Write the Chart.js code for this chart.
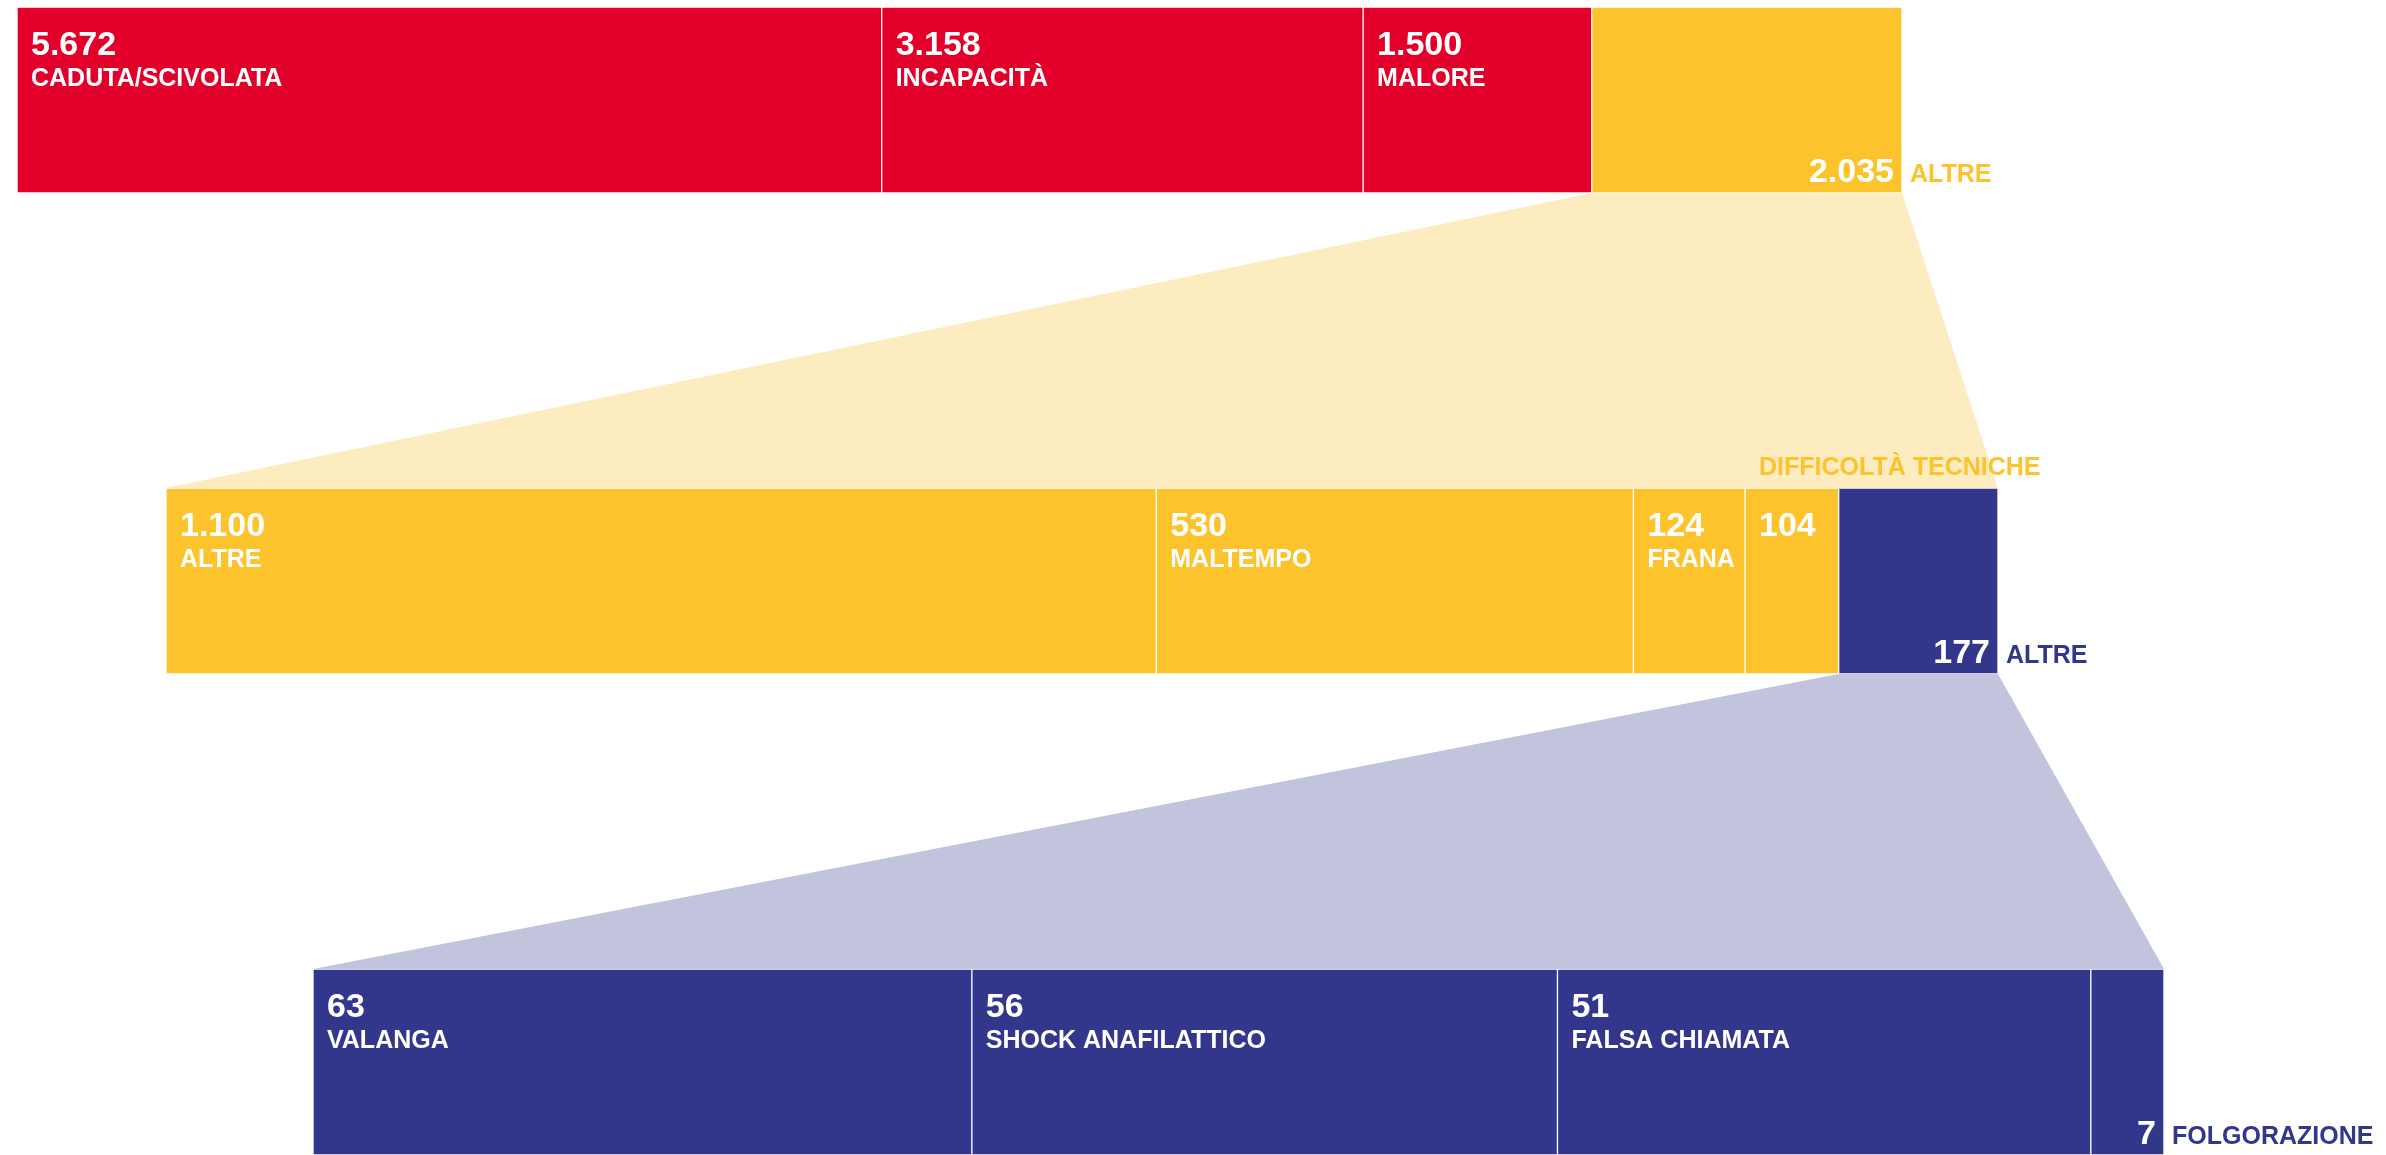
<!DOCTYPE html>
<html lang="it">
<head>
<meta charset="utf-8">
<title>Cause degli interventi</title>
<script src="https://cdn.jsdelivr.net/npm/chart.js@4.4.1/dist/chart.umd.min.js"></script>
<style>
  html, body { margin: 0; padding: 0; background: #fff; }
  #wrap { width: 2386px; height: 1155px; }
</style>
</head>
<body>
<div id="wrap"><canvas id="chart" width="2386" height="1155"></canvas></div>
<script>
'use strict';

// dati
const rowIds = ['r1', 'r2', 'r3'];

const row1Names = ['CADUTA/SCIVOLATA', 'INCAPACITÀ', 'MALORE', 'ALTRE'];
const row1Values = [5672, 3158, 1500, 2035];

const row2Names = ['ALTRE', 'MALTEMPO', 'FRANA', 'DIFFICOLTÀ TECNICHE', 'ALTRE'];
const row2Values = [1100, 530, 124, 104, 177];

const row3Names = ['VALANGA', 'SHOCK ANAFILATTICO', 'FALSA CHIAMATA', 'FOLGORAZIONE'];
const row3Values = [63, 56, 51, 7];

// stile
const RED = '#e2002b';
const YELLOW = '#fdc32d';
const NAVY = '#33378c';
const LIGHT_YELLOW = '#fdecc0';
const LAVENDER = '#c2c4de';

const row1Colors = [RED, RED, RED, YELLOW];
const row2Colors = [YELLOW, YELLOW, YELLOW, YELLOW, NAVY];
const row3Colors = [NAVY, NAVY, NAVY, NAVY];

// 'in' = etichetta in alto a sinistra, 'above' = nome sopra la barra, 'out' = nome fuori a destra
const row1Modes = ['in', 'in', 'in', 'out'];
const row2Modes = ['in', 'in', 'in', 'above', 'out'];
const row3Modes = ['in', 'in', 'in', 'out'];

const rows = [
    { names: row1Names, values: row1Values, colors: row1Colors, modes: row1Modes },
    { names: row2Names, values: row2Values, colors: row2Colors, modes: row2Modes },
    { names: row3Names, values: row3Values, colors: row3Colors, modes: row3Modes }
];

// ogni riga ha una propria estensione orizzontale (px)
const AREA_L = 17, AREA_R = 2164;
const rowLeft = [17, 166, 313];
const rowRight = [1902, 1998, 2164];
const BAR_H = 186;

const FONT = '"Liberation Sans", Arial, Helvetica, sans-serif';
const VALUE_FONT = 'bold 34px ' + FONT;
const NAME_FONT = 'bold 25px ' + FONT;

function fmt(v) {
    return String(v).replace(/\B(?=(\d{3})+(?!\d))/g, '.');
}

function scaleRange(r) {
    const total = rows[r].values.reduce((a, b) => a + b, 0);
    const per = total / (rowRight[r] - rowLeft[r]);
    return {
        min: -(rowLeft[r] - AREA_L) * per,
        max: total + (AREA_R - rowRight[r]) * per
    };
}

// costruzione dataset: un dataset per segmento, ogni riga sul proprio asse x
const datasets = [];
const segIndex = [];
rows.forEach((row, r) => {
    segIndex.push([]);
    row.values.forEach((v, s) => {
        const data = rowIds.map((id, i) => (i === r ? v : null));
        segIndex[r].push(datasets.length);
        datasets.push({
            label: row.names[s],
            data: data,
            xAxisID: 'x' + (r + 1),
            stack: 'row' + r,
            backgroundColor: row.colors[s],
            borderColor: '#ffffff',
            borderWidth: 1,
            borderSkipped: false,
            barThickness: BAR_H,
            grouped: false,
            clip: false
        });
    });
});

function barBox(chart, r, s) {
    const el = chart.getDatasetMeta(segIndex[r][s]).data[r];
    const p = el.getProps(['x', 'y', 'base', 'height'], true);
    return {
        left: Math.min(p.x, p.base),
        right: Math.max(p.x, p.base),
        top: p.y - p.height / 2,
        bottom: p.y + p.height / 2
    };
}

// trapezi di collegamento tra una riga e il dettaglio sotto
const funnelPlugin = {
    id: 'funnel',
    beforeDatasetsDraw(chart) {
        const ctx = chart.ctx;
        const links = [
            { r: 0, s: 3, color: LIGHT_YELLOW },
            { r: 1, s: 4, color: LAVENDER }
        ];
        ctx.save();
        links.forEach(link => {
            const src = barBox(chart, link.r, link.s);
            const next = rows[link.r + 1];
            const first = barBox(chart, link.r + 1, 0);
            const last = barBox(chart, link.r + 1, next.values.length - 1);
            ctx.beginPath();
            ctx.moveTo(src.left, src.bottom);
            ctx.lineTo(src.right, src.bottom);
            ctx.lineTo(last.right, first.top);
            ctx.lineTo(first.left, first.top);
            ctx.closePath();
            ctx.fillStyle = link.color;
            ctx.fill();
        });
        ctx.restore();
    }
};

// etichette dei segmenti
const labelPlugin = {
    id: 'segLabels',
    afterDatasetsDraw(chart) {
        const ctx = chart.ctx;
        ctx.save();
        ctx.textBaseline = 'alphabetic';
        rows.forEach((row, r) => {
            row.values.forEach((v, s) => {
                const b = barBox(chart, r, s);
                const mode = row.modes[s];
                if (mode === 'out') {
                    ctx.font = VALUE_FONT;
                    ctx.fillStyle = '#ffffff';
                    ctx.textAlign = 'right';
                    ctx.fillText(fmt(v), b.right - 8, b.bottom - 11);
                    ctx.font = NAME_FONT;
                    ctx.fillStyle = row.colors[s];
                    ctx.textAlign = 'left';
                    ctx.fillText(row.names[s], b.right + 8, b.bottom - 11);
                    return;
                }
                ctx.textAlign = 'left';
                ctx.font = VALUE_FONT;
                ctx.fillStyle = '#ffffff';
                ctx.fillText(fmt(v), b.left + 14, b.top + 48);
                ctx.font = NAME_FONT;
                if (mode === 'above') {
                    ctx.fillStyle = row.colors[s];
                    ctx.fillText(row.names[s], b.left + 14, b.top - 13);
                } else {
                    ctx.fillText(row.names[s], b.left + 14, b.top + 79);
                }
            });
        });
        ctx.restore();
    }
};

const r1 = scaleRange(0), r2 = scaleRange(1), r3 = scaleRange(2);

new Chart(document.getElementById('chart').getContext('2d'), {
    type: 'bar',
    data: { labels: rowIds, datasets: datasets },
    options: {
        indexAxis: 'y',
        responsive: false,
        animation: false,
        events: [],
        layout: { padding: { left: AREA_L, right: 2386 - AREA_R, top: 100, bottom: 93 } },
        scales: {
            y: { type: 'category', offset: false, display: false },
            x1: { type: 'linear', axis: 'x', stacked: true, min: r1.min, max: r1.max, display: false },
            x2: { type: 'linear', axis: 'x', stacked: true, min: r2.min, max: r2.max, display: false },
            x3: { type: 'linear', axis: 'x', stacked: true, min: r3.min, max: r3.max, display: false }
        },
        plugins: {
            legend: { display: false },
            tooltip: { enabled: false }
        }
    },
    plugins: [funnelPlugin, labelPlugin]
});
</script>
</body>
</html>
